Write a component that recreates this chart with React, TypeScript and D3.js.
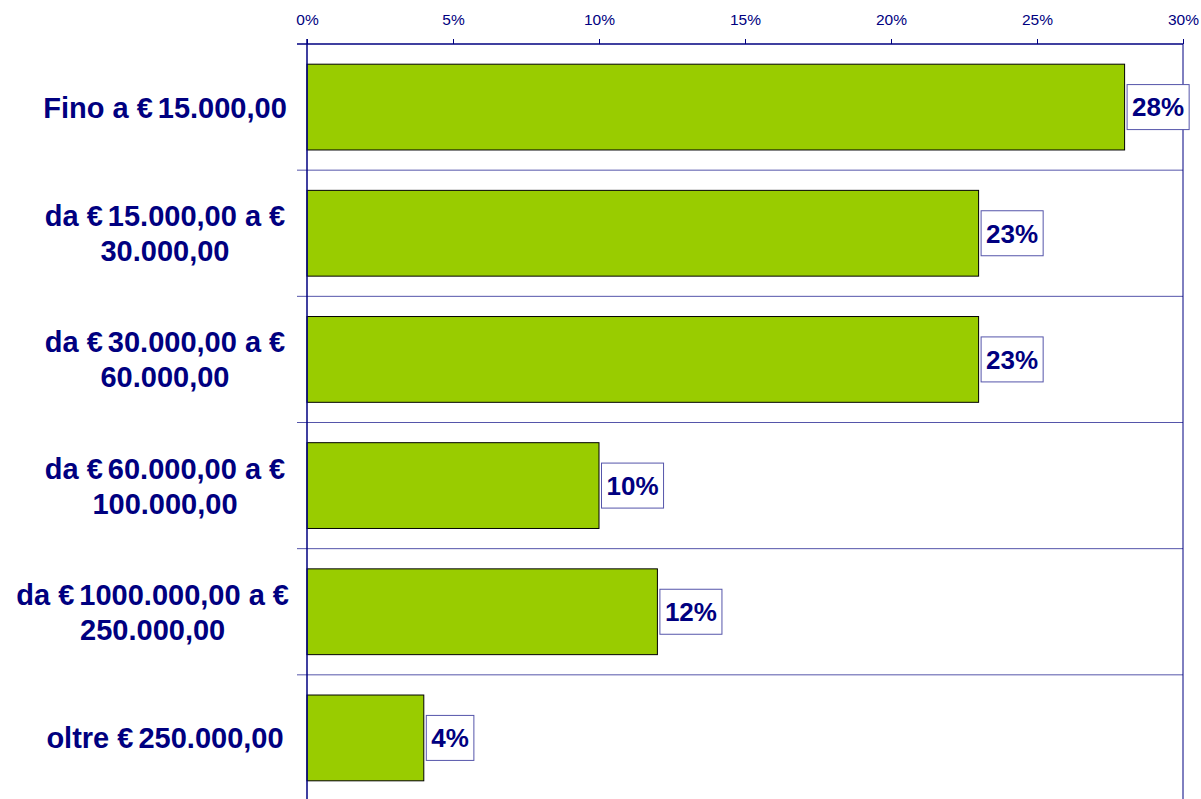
import React, { useEffect, useRef } from "react";
import * as d3 from "d3";

const categories: string[][] = [
  ["Fino a €15.000,00"],
  ["da €15.000,00 a €", "30.000,00"],
  ["da €30.000,00 a €", "60.000,00"],
  ["da €60.000,00 a €", "100.000,00"],
  ["da €1000.000,00 a €", "250.000,00"],
  ["oltre €250.000,00"],
];
const values: number[] = [28, 23, 23, 10, 12, 4];
const tickValues: number[] = [0, 5, 10, 15, 20, 25, 30];

const W = 1201;
const H = 799;
const NAVY = "#000080";
const FONT = "'Liberation Sans', Arial, sans-serif";

export default function App() {
  const ref = useRef<SVGSVGElement | null>(null);

  useEffect(() => {
    const svg = d3.select(ref.current);
    svg.selectAll("*").remove();

    const left = 307, right = 1183, top = 44, bottom = 801;
    const keys = categories.map((_, i) => String(i));
    const x = d3.scaleLinear().domain([0, 30]).range([left, right]);
    const y = d3.scaleBand<string>().domain(keys).range([top, bottom]).padding(0);
    const step = y.step();

    // separators between categories
    keys.forEach((k, i) => {
      if (i === 0) return;
      svg.append("line")
        .attr("x1", left - 10).attr("x2", right)
        .attr("y1", y(k)!).attr("y2", y(k)!)
        .attr("stroke", "#5555aa").attr("stroke-width", 1);
    });

    // right border
    svg.append("line")
      .attr("x1", right).attr("x2", right)
      .attr("y1", top).attr("y2", bottom)
      .attr("stroke", NAVY).attr("stroke-width", 1);

    keys.forEach((k, i) => {
      const y0 = y(k)! + step * 0.16;
      const bh = step * 0.68;
      svg.append("rect")
        .attr("x", x(0)).attr("y", y0)
        .attr("width", x(values[i]) - x(0)).attr("height", bh)
        .attr("fill", "#99CC00").attr("stroke", "#000").attr("stroke-width", 1);

      // value label box
      const cy = y(k)! + step / 2;
      const g = svg.append("g");
      const t = g.append("text")
        .attr("x", x(values[i]) + 7.5)
        .attr("y", cy)
        .attr("dy", "0.36em")
        .attr("font-family", FONT)
        .attr("font-weight", "bold")
        .attr("font-size", 26)
        .attr("fill", NAVY)
        .text(`${values[i]}%`);
      const tw = (t.node() as SVGTextElement).getComputedTextLength();
      g.insert("rect", "text")
        .attr("x", x(values[i]) + 2.5).attr("y", cy - 22.5)
        .attr("width", tw + 10).attr("height", 45)
        .attr("fill", "#fff").attr("stroke", "#5555aa").attr("stroke-width", 1);

      // category label
      const lines = categories[i];
      const lh = 35;
      const texts = lines.map((line, j) => {
        const tt = svg.append("text")
          .attr("y", cy + (j - (lines.length - 1) / 2) * lh)
          .attr("dy", "0.36em")
          .attr("font-family", FONT)
          .attr("font-weight", "bold")
          .attr("font-size", 29)
          .attr("fill", NAVY);
        const parts = line.split("€");
        parts.forEach((p, pi) => {
          if (pi > 0) tt.append("tspan").text("€");
          if (p !== "") tt.append("tspan").attr("dx", pi > 0 ? 5 : 0).text(p);
        });
        return tt;
      });
      const maxW = d3.max(texts, (o) => (o.node() as SVGTextElement).getBBox().width) || 0;
      const cx = Math.min(165, 289 - maxW / 2);
      texts.forEach((tt) => {
        const bw = (tt.node() as SVGTextElement).getBBox().width;
        tt.attr("x", cx - bw / 2);
      });
    });

    // left axis line
    svg.append("line")
      .attr("x1", left).attr("x2", left)
      .attr("y1", top - 5).attr("y2", bottom)
      .attr("stroke", NAVY).attr("stroke-width", 1.5);

    // top axis
    const axis = d3.axisTop(x).tickValues(tickValues).tickSize(5).tickSizeOuter(0)
      .tickFormat((d) => `${d}%`);
    const ag = svg.append("g").attr("transform", `translate(0,${top})`).call(axis);
    ag.select(".domain").remove();
    ag.append("line").attr("x1", left - 10).attr("x2", right).attr("y1", 0).attr("y2", 0)
      .attr("stroke", NAVY).attr("stroke-width", 1.5);
    ag.selectAll(".tick line").attr("stroke", NAVY);
    ag.selectAll(".tick text")
      .attr("fill", NAVY)
      .attr("font-family", FONT)
      .attr("font-size", 15.5)
      .attr("y", -19);
  }, []);

  return (
    <svg
      ref={ref}
      width={W}
      height={H}
      style={{ position: "absolute", left: 0, top: 0, background: "#fff" }}
    />
  );
}
